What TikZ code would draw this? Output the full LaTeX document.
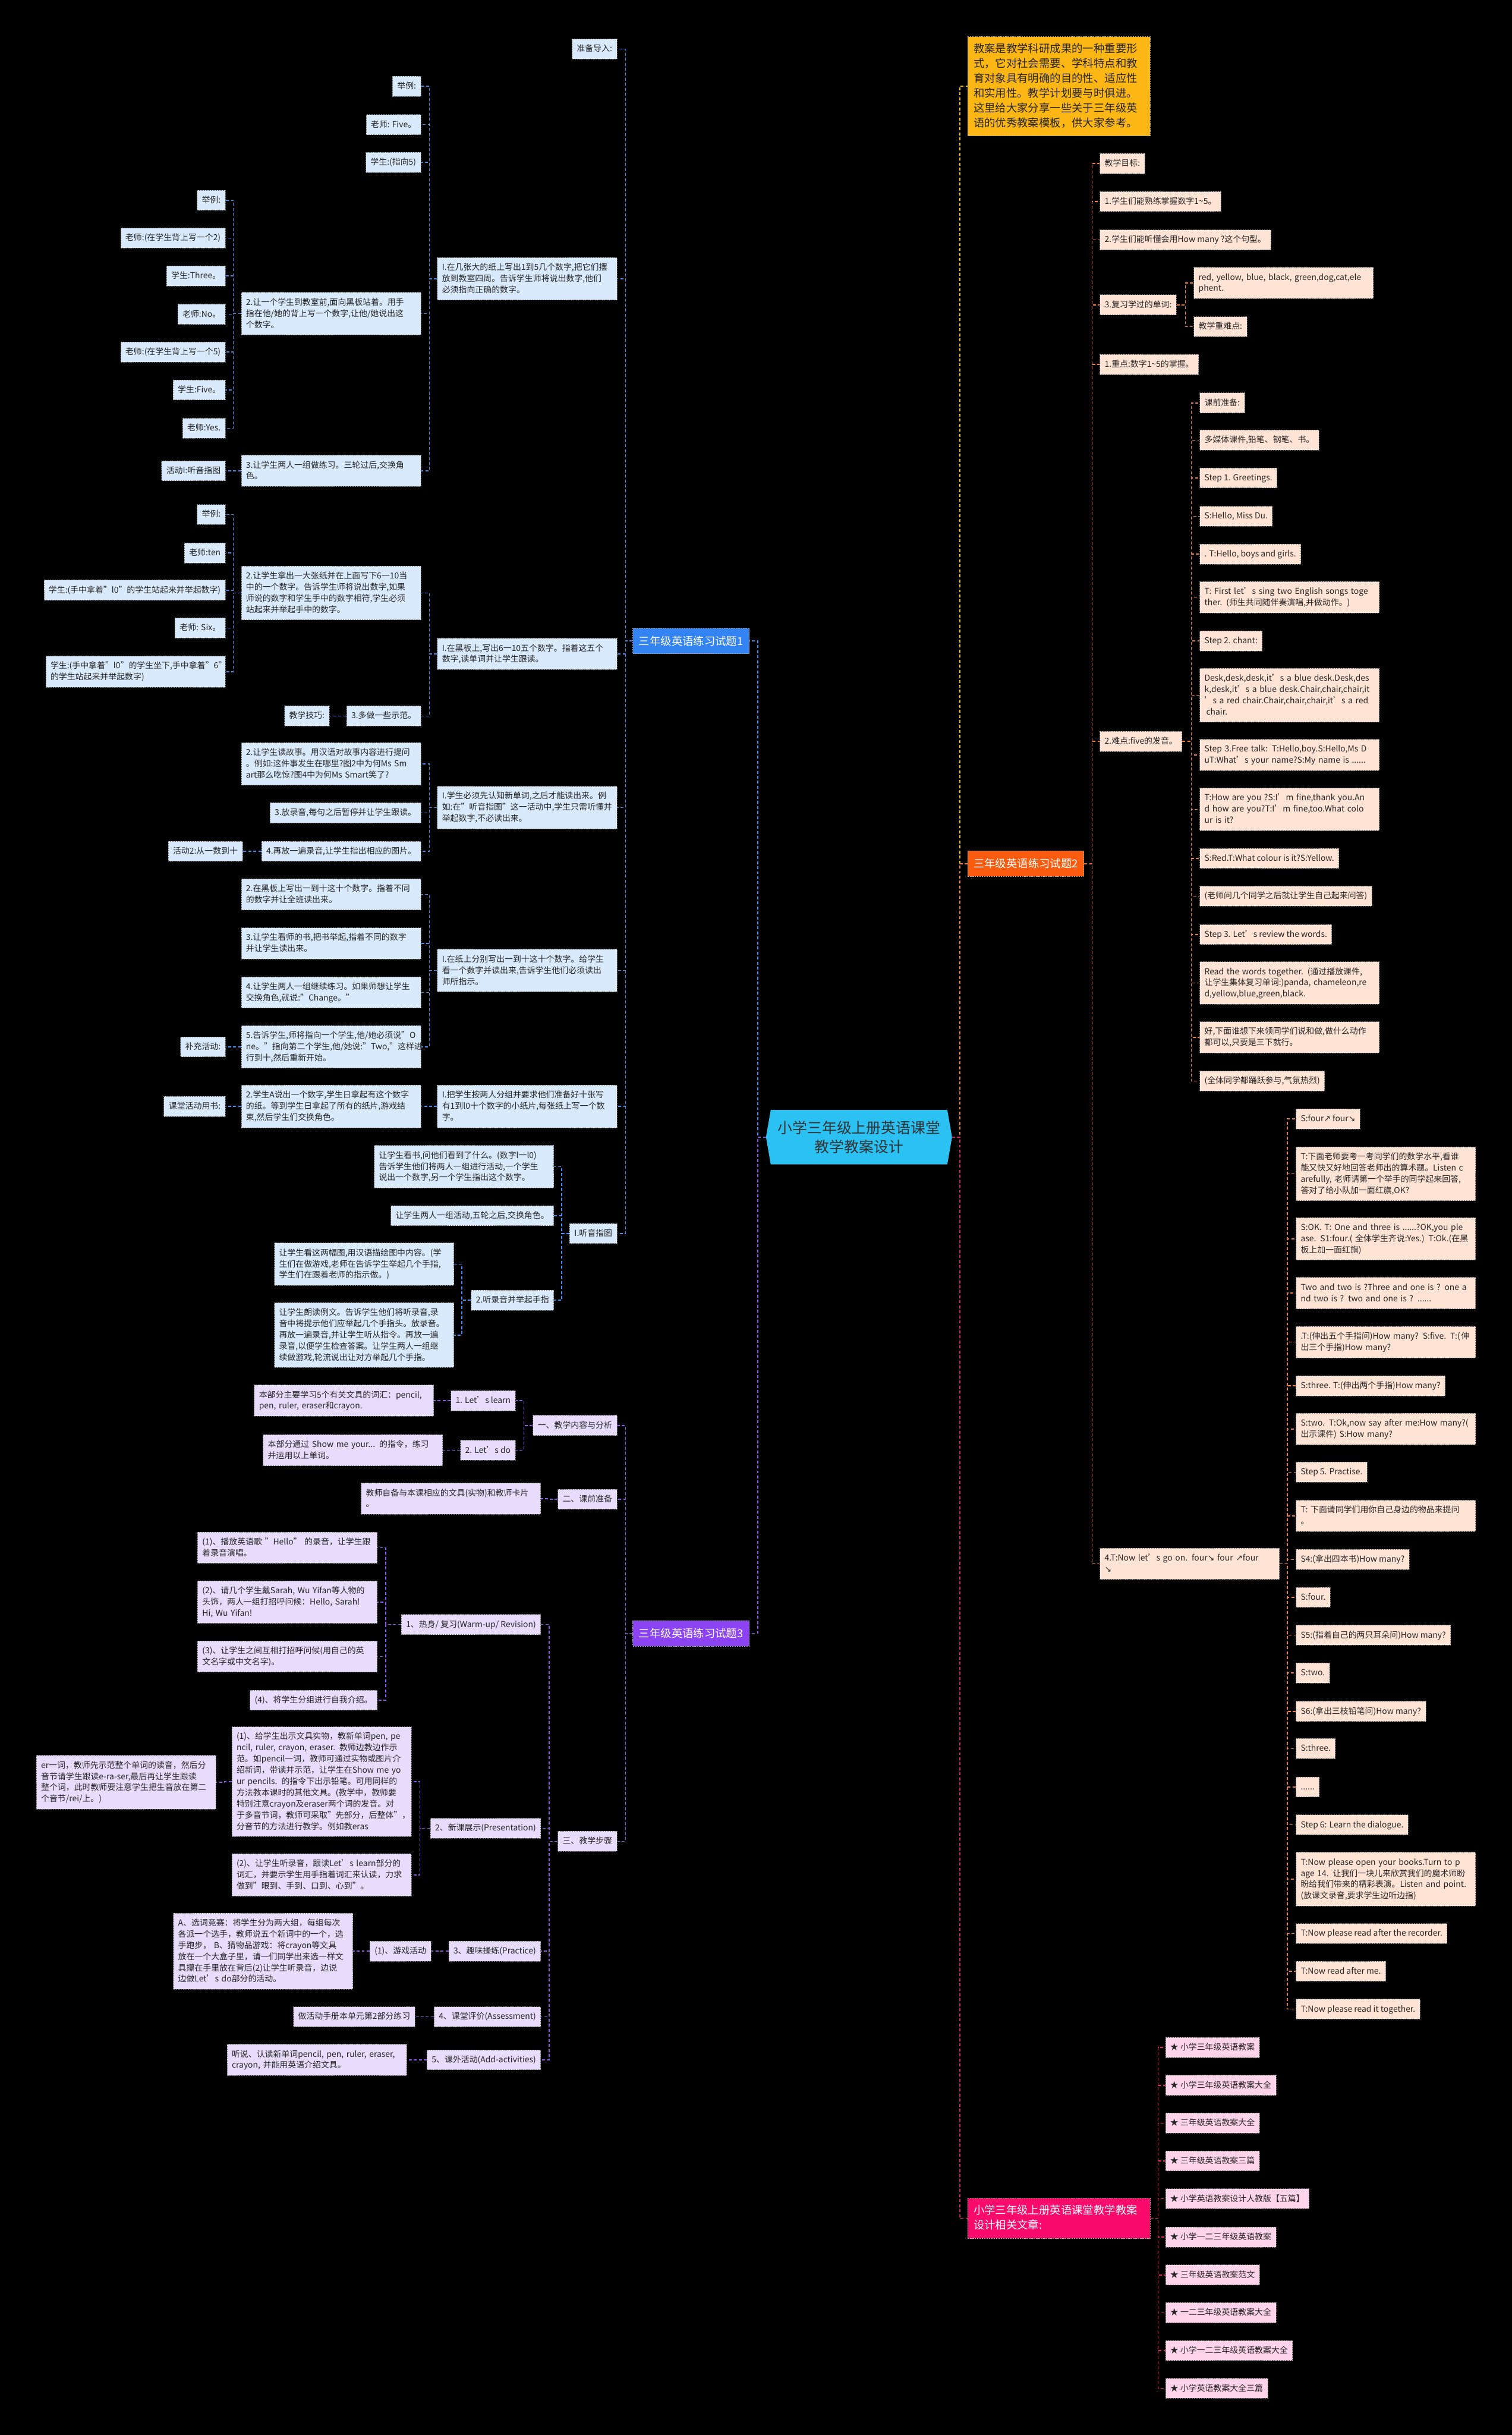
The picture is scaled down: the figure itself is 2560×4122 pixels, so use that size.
\documentclass[tikz,border=0pt]{standalone}
\usepackage{fontspec}
\setmainfont{Noto Sans CJK SC}
\newfontfamily\arrfont{DejaVu Sans}
\usetikzlibrary{backgrounds}
\definecolor{bgBlue}{HTML}{DAEAFD}
\definecolor{bgPur}{HTML}{E7DCFC}
\definecolor{bgOra}{HTML}{FFE3D5}
\definecolor{bgPink}{HTML}{FFD3EA}
\definecolor{cBlue}{HTML}{4A8BEA}
\definecolor{cPur}{HTML}{8D5AE6}
\definecolor{cOra}{HTML}{EF7B3C}
\definecolor{cYel}{HTML}{F6C21A}
\definecolor{cRed}{HTML}{E0256A}
\definecolor{fTa}{HTML}{3483F2}
\definecolor{fTb}{HTML}{FA5B0E}
\definecolor{fTc}{HTML}{8C43F3}
\definecolor{fRel}{HTML}{F90A6B}
\definecolor{fIntro}{HTML}{FDB714}
\definecolor{fRoot}{HTML}{2BC2F3}
\newcommand\Sst{\rule[-5pt]{0pt}{19pt}}
\newcommand\Lst{\rule[-6.5pt]{0pt}{25pt}}
\newcommand\arw[1]{{\arrfont #1}}
\newcommand\conL[4]{\draw[#1] (#2.west) -- (#2.west -| #4,0) |- (#3.east);}
\newcommand\conR[4]{\draw[#1] (#2.east) -- (#2.east -| #4,0) |- (#3.west);}
\tikzset{
  nbox/.style={draw=black!55, dash pattern=on 2.5pt off 1.5pt, line width=0.9pt,
    inner xsep=8pt, inner ysep=7.5pt, align=left, font=\fontsize{14}{19}\selectfont,
    text=black!85, execute at begin node=\Sst, execute at end node=\Sst},
  mlw/.style={text width=288pt},
  bnode/.style={nbox, fill=bgBlue, anchor=east},
  pnode/.style={nbox, fill=bgPur, anchor=east},
  onode/.style={nbox, fill=bgOra, anchor=west},
  knode/.style={nbox, fill=bgPink, anchor=west},
  lvone/.style={inner xsep=10pt, inner ysep=0pt, minimum height=43pt, minimum width=197pt,
    font=\fontsize{18.5}{24}\selectfont, text=white, draw=black!35,
    dash pattern=on 2.5pt off 1.5pt, line width=0.8pt},
  bignode/.style={anchor=west, font=\fontsize{18.5}{25}\selectfont, text width=289pt,
    inner xsep=10pt, inner ysep=9pt, align=left, draw=black!35,
    dash pattern=on 2.5pt off 1.5pt, line width=0.8pt},
  conn/.style={line width=1.6pt, dash pattern=on 5pt off 3.5pt},
  bconn/.style={conn, draw=cBlue},
  pconn/.style={conn, draw=cPur},
  oconn/.style={conn, draw=cOra},
  yconn/.style={conn, draw=cYel},
  rconn/.style={conn, draw=cRed}
}
\begin{document}
\begin{tikzpicture}[x=1pt,y=-1pt]
\useasboundingbox (0,0) rectangle (2560,4122);
% root
\fill[fRoot] (1297,1925) -- (1305,1879) -- (1604,1879) -- (1612,1925) -- (1604,1971) -- (1305,1971) -- cycle;
\node[font=\fontsize{25}{33}\selectfont, text=black!80, align=center, minimum width=315pt,
  minimum height=92pt, inner sep=0pt] (root) at (1454.5,1925) {小学三年级上册英语课堂\\教学教案设计};

% level one
\node[lvone, fill=fTa, anchor=east] (t1) at (1269,1085) {三年级英语练习试题1};
\node[lvone, fill=fTc, anchor=east] (t3) at (1269,2765) {三年级英语练习试题3};
\node[lvone, fill=fTb, anchor=west] (t2) at (1638,1462) {三年级英语练习试题2};
\node[bignode, fill=fIntro, text=black!85] (intro) at (1638,146) {\Lst 教案是教学科研成果的一种重要形\\式，它对社会需要、学科特点和教\\育对象具有明确的目的性、适应性\\和实用性。教学计划要与时俱进。\\这里给大家分享一些关于三年级英\\语的优秀教案模板，供大家参考。\Lst};
\node[bignode, fill=fRel, text=white] (rel) at (1638,3755) {\Lst 小学三年级上册英语课堂教学教案\\设计相关文章:\Lst};

% ===== branch 1 =====
\node[bnode] (n1a) at (1045,83) {准备导入:};
\node[bnode, mlw] (n1b) at (1045,472) {I.在几张大的纸上写出1到5几个数字,把它们摆\\放到教室四周。告诉学生师将说出数字,他们\\必须指向正确的数字。};
\node[bnode, mlw] (n1c) at (1045,1107) {I.在黑板上,写出6一10五个数字。指着这五个\\数字,读单词并让学生跟读。};
\node[bnode, mlw] (n1d) at (1045,1367) {I.学生必须先认知新单词,之后才能读出来。例\\如:在"听音指图"这一活动中,学生只需听懂并\\举起数字,不必读出来。};
\node[bnode, mlw] (n1e) at (1045,1643) {I.在纸上分别写出一到十这十个数字。给学生\\看一个数字并读出来,告诉学生他们必须读出\\师所指示。};
\node[bnode, mlw] (n1f) at (1045,1873) {I.把学生按两人分组并要求他们准备好十张写\\有1到l0十个数字的小纸片,每张纸上写一个数\\字。};
\node[bnode] (n1g) at (1045,2088) {I.听音指图};

\node[bnode] (n1b1) at (713,146) {举例:};
\node[bnode] (n1b2) at (713,211) {老师: Five。};
\node[bnode] (n1b3) at (713,275) {学生:(指向5)};
\node[bnode, mlw] (n1b4) at (713,531) {2.让一个学生到教室前,面向黑板站着。用手\\指在他/她的背上写一个数字,让他/她说出这\\个数字。};
\node[bnode, mlw] (n1b5) at (713,797) {3.让学生两人一组做练习。三轮过后,交换角\\色。};
\node[bnode] (n1b4a) at (382,339) {举例:};
\node[bnode] (n1b4b) at (382,403) {老师:(在学生背上写一个2)};
\node[bnode] (n1b4c) at (382,467) {学生:Three。};
\node[bnode] (n1b4d) at (382,532) {老师:No。};
\node[bnode] (n1b4e) at (382,596) {老师:(在学生背上写一个5)};
\node[bnode] (n1b4f) at (382,660) {学生:Five。};
\node[bnode] (n1b4g) at (382,725) {老师:Yes.};
\node[bnode] (n1b5a) at (382,797) {活动I:听音指图};

\node[bnode, mlw] (n1c1) at (713,1004) {2.让学生拿出一大张纸并在上面写下6一10当\\中的一个数字。告诉学生师将说出数字,如果\\师说的数字和学生手中的数字相符,学生必须\\站起来并举起手中的数字。};
\node[bnode] (n1c2) at (713,1212) {3.多做一些示范。};
\node[bnode] (n1c1a) at (382,871) {举例:};
\node[bnode] (n1c1b) at (382,936) {老师:ten};
\node[bnode] (n1c1c) at (382,999) {学生:(手中拿着"l0"的学生站起来并举起数字)};
\node[bnode] (n1c1d) at (382,1063) {老师: Six。};
\node[bnode, mlw] (n1c1e) at (382,1137) {学生:(手中拿着"l0"的学生坐下,手中拿着"6"\\的学生站起来并举起数字)};
\node[bnode] (n1c2a) at (558,1212) {教学技巧:};

\node[bnode, mlw] (n1d1) at (713,1293) {2.让学生读故事。用汉语对故事内容进行提问\\。例如:这件事发生在哪里?图2中为何Ms Sm\\art那么吃惊?图4中为何Ms Smart笑了?};
\node[bnode] (n1d2) at (713,1376) {3.放录音,每句之后暂停并让学生跟读。};
\node[bnode] (n1d3) at (713,1441) {4.再放一遍录音,让学生指出相应的图片。};
\node[bnode] (n1d3a) at (411,1441) {活动2:从一数到十};

\node[bnode, mlw] (n1e1) at (713,1514) {2.在黑板上写出一到十这十个数字。指着不同\\的数字并让全班读出来。};
\node[bnode, mlw] (n1e2) at (713,1597) {3.让学生看师的书,把书举起,指着不同的数字\\并让学生读出来。};
\node[bnode, mlw] (n1e3) at (713,1680) {4.让学生两人一组继续练习。如果师想让学生\\交换角色,就说:"Change。"};
\node[bnode, mlw] (n1e4) at (713,1772) {5.告诉学生,师将指向一个学生,他/她必须说"O\\ne。"指向第二个学生,他/她说:"Two,"这样进\\行到十,然后重新开始。};
\node[bnode] (n1e4a) at (382,1772) {补充活动:};

\node[bnode, mlw] (n1f1) at (713,1873) {2.学生A说出一个数字,学生日拿起有这个数字\\的纸。等到学生日拿起了所有的纸片,游戏结\\束,然后学生们交换角色。};
\node[bnode] (n1f1a) at (382,1873) {课堂活动用书:};

\node[bnode, mlw] (n1g1) at (938,1975) {让学生看书,问他们看到了什么。(数字l一l0)\\告诉学生他们将两人一组进行活动,一个学生\\说出一个数字,另一个学生指出这个数字。};
\node[bnode] (n1g2) at (938,2058) {让学生两人一组活动,五轮之后,交换角色。};
\node[bnode] (n1g3) at (938,2201) {2.听录音并举起手指};
\node[bnode, mlw] (n1g3a) at (769,2140) {让学生看这两幅图,用汉语描绘图中内容。(学\\生们在做游戏,老师在告诉学生举起几个手指,\\学生们在跟着老师的指示做。)};
\node[bnode, mlw] (n1g3b) at (769,2260) {让学生朗读例文。告诉学生他们将听录音,录\\音中将提示他们应举起几个手指头。放录音。\\再放一遍录音,并让学生听从指令。再放一遍\\录音,以便学生检查答案。让学生两人一组继\\续做游戏,轮流说出让对方举起几个手指。};

% ===== branch 3 =====
\node[pnode] (p1) at (1045,2413) {一、教学内容与分析};
\node[pnode] (p2) at (1045,2538) {二、课前准备};
\node[pnode] (p3) at (1045,3117) {三、教学步骤};
\node[pnode] (p1a) at (873,2371) {1. Let’s learn};
\node[pnode] (p1b) at (873,2455) {2. Let’s do};
\node[pnode, mlw] (p1a1) at (735,2371) {本部分主要学习5个有关文具的词汇：pencil,\\pen, ruler, eraser和crayon.};
\node[pnode, mlw] (p1b1) at (750,2455) {本部分通过 Show me your... 的指令，练习\\并运用以上单词。};
\node[pnode, mlw] (p2a) at (916,2537) {教师自备与本课相应的文具(实物)和教师卡片\\。};
\node[pnode] (p3a) at (916,2750) {1、热身/ 复习(Warm-up/ Revision)};
\node[pnode] (p3b) at (916,3095) {2、新课展示(Presentation)};
\node[pnode] (p3c) at (916,3303) {3、趣味操练(Practice)};
\node[pnode] (p3d) at (916,3414) {4、课堂评价(Assessment)};
\node[pnode] (p3e) at (916,3487) {5、课外活动(Add-activities)};
\node[pnode, mlw] (p3a1) at (639,2620) {(1)、播放英语歌 "Hello" 的录音，让学生跟\\着录音演唱。};
\node[pnode, mlw] (p3a2) at (639,2712) {(2)、请几个学生戴Sarah, Wu Yifan等人物的\\头饰，两人一组打招呼问候：Hello, Sarah!\\Hi, Wu Yifan!};
\node[pnode, mlw] (p3a3) at (639,2804) {(3)、让学生之间互相打招呼问候(用自己的英\\文名字或中文名字)。};
\node[pnode] (p3a4) at (639,2878) {(4)、将学生分组进行自我介绍。};
\node[pnode, mlw] (p3b1) at (697,3016) {(1)、给学生出示文具实物，教新单词pen, pe\\ncil, ruler, crayon, eraser. 教师边教边作示\\范。如pencil一词，教师可通过实物或图片介\\绍新词，带读并示范，让学生在Show me yo\\ur pencils. 的指令下出示铅笔。可用同样的\\方法教本课时的其他文具。(教学中，教师要\\特别注意crayon及eraser两个词的发音。对\\于多音节词，教师可采取"先部分，后整体"，\\分音节的方法进行教学。例如教eras};
\node[pnode, mlw] (p3b1a) at (366,3017) {er一词，教师先示范整个单词的读音，然后分\\音节请学生跟读e-ra-ser,最后再让学生跟读\\整个词，此时教师要注意学生把生音放在第二\\个音节/rei/上。)};
\node[pnode, mlw] (p3b2) at (697,3174) {(2)、让学生听录音，跟读Let’s learn部分的\\词汇，并要示学生用手指着词汇来认读，力求\\做到"眼到、手到、口到、心到"。};
\node[pnode] (p3c1) at (730,3303) {(1)、游戏活动};
\node[pnode, mlw] (p3c1a) at (598,3303) {A、选词竞赛：将学生分为两大组，每组每次\\各派一个选手，教师说五个新词中的一个，选\\手跑步， B、猜物品游戏：将crayon等文具\\放在一个大盒子里，请一们同学出来选一样文\\具攥在手里放在背后(2)让学生听录音，边说\\边做Let’s do部分的活动。};
\node[pnode] (p3d1) at (703,3414) {做活动手册本单元第2部分练习};
\node[pnode, mlw] (p3e1) at (689,3487) {听说、认读新单词pencil, pen, ruler, eraser,\\crayon, 并能用英语介绍文具。};

% ===== branch 2 =====
\node[onode] (o1) at (1862,277) {教学目标:};
\node[onode] (o2) at (1862,341) {1.学生们能熟练掌握数字1\textasciitilde 5。};
\node[onode] (o3) at (1862,406) {2.学生们能听懂会用How many ?这个句型。};
\node[onode] (o4) at (1862,516) {3.复习学过的单词:};
\node[onode] (o5) at (1862,617) {1.重点:数字1\textasciitilde 5的掌握。};
\node[onode] (o6) at (1862,1255) {2.难点:five的发音。};
\node[onode, mlw] (o7) at (1862,2647) {4.T:Now let’s go on. four\arw{↘} four \arw{↗}four\\\arw{↘}};
\node[onode, mlw] (o4a) at (2021,479) {red, yellow, blue, black, green,dog,cat,ele\\phent.};
\node[onode] (o4b) at (2021,553) {教学重难点:};

\node[onode] (o6a) at (2031,682) {课前准备:};
\node[onode] (o6b) at (2031,745) {多媒体课件,铅笔、钢笔、书。};
\node[onode] (o6c) at (2031,809) {Step 1. Greetings.};
\node[onode] (o6d) at (2031,874) {S:Hello, Miss Du.};
\node[onode] (o6e) at (2031,938) {. T:Hello, boys and girls.};
\node[onode, mlw] (o6f) at (2031,1011) {T: First let’s sing two English songs toge\\ther. (师生共同随伴奏演唱,并做动作。)};
\node[onode] (o6g) at (2031,1085) {Step 2. chant:};
\node[onode, mlw] (o6h) at (2031,1177) {Desk,desk,desk,it’s a blue desk.Desk,des\\k,desk,it’s a blue desk.Chair,chair,chair,it\\’s a red chair.Chair,chair,chair,it’s a red\\\hspace*{3pt}chair.};
\node[onode, mlw] (o6i) at (2031,1278) {Step 3.Free talk: T:Hello,boy.S:Hello,Ms D\\uT:What’s your name?S:My name is ......};
\node[onode, mlw] (o6j) at (2031,1370) {T:How are you ?S:I’m fine,thank you.An\\d how are you?T:I’m fine,too.What colo\\ur is it?};
\node[onode] (o6k) at (2031,1453) {S:Red.T:What colour is it?S:Yellow.};
\node[onode] (o6l) at (2031,1517) {(老师问几个同学之后就让学生自己起来问答)};
\node[onode] (o6m) at (2031,1582) {Step 3. Let’s review the words.};
\node[onode, mlw] (o6n) at (2031,1664) {Read the words together. (通过播放课件,\\让学生集体复习单词:)panda, chameleon,re\\d,yellow,blue,green,black.};
\node[onode, mlw] (o6o) at (2031,1756) {好,下面谁想下来领同学们说和做,做什么动作\\都可以,只要是三下就行。};
\node[onode] (o6p) at (2031,1830) {(全体同学都踊跃参与,气氛热烈)};

\node[onode] (o7a) at (2194,1894) {S:four\arw{↗} four\arw{↘}};
\node[onode, mlw] (o7b) at (2194,1987) {T:下面老师要考一考同学们的数学水平,看谁\\能又快又好地回答老师出的算术题。Listen c\\arefully, 老师请第一个举手的同学起来回答,\\答对了给小队加一面红旗,OK?};
\node[onode, mlw] (o7c) at (2194,2097) {S:OK. T: One and three is ......?OK,you ple\\ase. S1:four.( 全体学生齐说:Yes.) T:Ok.(在黑\\板上加一面红旗)};
\node[onode, mlw] (o7d) at (2194,2189) {Two and two is ?Three and one is ? one a\\nd two is ? two and one is ? ......};
\node[onode, mlw] (o7e) at (2194,2272) {\mbox{.T:(伸出五个手指问)How many? S:five. T:(\hspace{2pt}伸}\\出三个手指)How many?};
\node[onode] (o7f) at (2194,2346) {S:three. T:(伸出两个手指)How many?};
\node[onode, mlw] (o7g) at (2194,2419) {S:two. T:Ok,now say after me:How many?(\\出示课件) S:How many?};
\node[onode] (o7h) at (2194,2492) {Step 5. Practise.};
\node[onode, mlw] (o7i) at (2194,2566) {T: 下面请同学们用你自己身边的物品来提问\\。};
\node[onode] (o7j) at (2194,2640) {S4:(拿出四本书)How many?};
\node[onode] (o7k) at (2194,2704) {S:four.};
\node[onode] (o7l) at (2194,2768) {S5:(指着自己的两只耳朵问)How many?};
\node[onode] (o7m) at (2194,2832) {S:two.};
\node[onode] (o7n) at (2194,2897) {S6:(拿出三枝铅笔问)How many?};
\node[onode] (o7o) at (2194,2960) {S:three.};
\node[onode] (o7p) at (2194,3025) {......};
\node[onode] (o7q) at (2194,3089) {Step 6: Learn the dialogue.};
\node[onode, mlw] (o7r) at (2194,3181) {T:Now please open your books.Turn to p\\age 14. 让我们一块儿来欣赏我们的魔术师盼\\盼给我们带来的精彩表演。Listen and point.\\(放课文录音,要求学生边听边指)};
\node[onode] (o7s) at (2194,3273) {T:Now please read after the recorder.};
\node[onode] (o7t) at (2194,3337) {T:Now read after me.};
\node[onode] (o7u) at (2194,3401) {T:Now please read it together.};

% ===== related =====
\node[knode] (k1) at (1973,3466) {★ 小学三年级英语教案};
\node[knode] (k2) at (1973,3530) {★ 小学三年级英语教案大全};
\node[knode] (k3) at (1973,3594) {★ 三年级英语教案大全};
\node[knode] (k4) at (1973,3658) {★ 三年级英语教案三篇};
\node[knode] (k5) at (1973,3722) {★ 小学英语教案设计人教版【五篇】};
\node[knode] (k6) at (1973,3787) {★ 小学一二三年级英语教案};
\node[knode] (k7) at (1973,3851) {★ 三年级英语教案范文};
\node[knode] (k8) at (1973,3915) {★ 一二三年级英语教案大全};
\node[knode] (k9) at (1973,3979) {★ 小学一二三年级英语教案大全};
\node[knode] (k10) at (1973,4043) {★ 小学英语教案大全三篇};

% ===== connectors =====
\begin{pgfonlayer}{background}
\fill[black] (0,0) rectangle (2560,4122);
\draw[bconn] (root.west) -- (root.west -| 1283,0) |- (t1.east);
\draw[pconn] (root.west) -- (root.west -| 1283,0) |- (t3.east);
\draw[yconn] (root.east) -- (root.east -| 1625,0) |- (intro.west);
\draw[oconn] (root.east) -- (root.east -| 1625,0) |- (t2.west);
\draw[rconn] (root.east) -- (root.east -| 1625,0) |- (rel.west);
% branch 1
\foreach \x in {n1a,n1b,n1c,n1d,n1e,n1f,n1g} {\conL{bconn}{t1}{\x}{1059}}
\foreach \x in {n1b1,n1b2,n1b3,n1b4,n1b5} {\conL{bconn}{n1b}{\x}{727}}
\foreach \x in {n1b4a,n1b4b,n1b4c,n1b4d,n1b4e,n1b4f,n1b4g} {\conL{bconn}{n1b4}{\x}{395}}
\conL{bconn}{n1b5}{n1b5a}{395}
\foreach \x in {n1c1,n1c2} {\conL{bconn}{n1c}{\x}{727}}
\foreach \x in {n1c1a,n1c1b,n1c1c,n1c1d,n1c1e} {\conL{bconn}{n1c1}{\x}{395}}
\conL{bconn}{n1c2}{n1c2a}{572}
\foreach \x in {n1d1,n1d2,n1d3} {\conL{bconn}{n1d}{\x}{727}}
\conL{bconn}{n1d3}{n1d3a}{425}
\foreach \x in {n1e1,n1e2,n1e3,n1e4} {\conL{bconn}{n1e}{\x}{727}}
\conL{bconn}{n1e4}{n1e4a}{395}
\conL{bconn}{n1f}{n1f1}{727}
\conL{bconn}{n1f1}{n1f1a}{395}
\foreach \x in {n1g1,n1g2,n1g3} {\conL{bconn}{n1g}{\x}{951}}
\foreach \x in {n1g3a,n1g3b} {\conL{bconn}{n1g3}{\x}{782}}
% branch 3
\foreach \x in {p1,p2,p3} {\conL{pconn}{t3}{\x}{1059}}
\foreach \x in {p1a,p1b} {\conL{pconn}{p1}{\x}{887}}
\conL{pconn}{p1a}{p1a1}{748}
\conL{pconn}{p1b}{p1b1}{764}
\conL{pconn}{p2}{p2a}{930}
\foreach \x in {p3a,p3b,p3c,p3d,p3e} {\conL{pconn}{p3}{\x}{930}}
\foreach \x in {p3a1,p3a2,p3a3,p3a4} {\conL{pconn}{p3a}{\x}{653}}
\foreach \x in {p3b1,p3b2} {\conL{pconn}{p3b}{\x}{711}}
\conL{pconn}{p3b1}{p3b1a}{380}
\conL{pconn}{p3c}{p3c1}{744}
\conL{pconn}{p3c1}{p3c1a}{612}
\conL{pconn}{p3d}{p3d1}{717}
\conL{pconn}{p3e}{p3e1}{704}
% branch 2
\foreach \x in {o1,o2,o3,o4,o5,o6,o7} {\conR{oconn}{t2}{\x}{1849}}
\foreach \x in {o4a,o4b} {\conR{oconn}{o4}{\x}{2007}}
\foreach \x in {o6a,o6b,o6c,o6d,o6e,o6f,o6g,o6h,o6i,o6j,o6k,o6l,o6m,o6n,o6o,o6p} {\conR{oconn}{o6}{\x}{2017}}
\foreach \x in {o7a,o7b,o7c,o7d,o7e,o7f,o7g,o7h,o7i,o7j,o7k,o7l,o7m,o7n,o7o,o7p,o7q,o7r,o7s,o7t,o7u} {\conR{oconn}{o7}{\x}{2180}}
% related
\foreach \x in {k1,k2,k3,k4,k5,k6,k7,k8,k9,k10} {\conR{rconn}{rel}{\x}{1961}}
\end{pgfonlayer}
\end{tikzpicture}
\end{document}
